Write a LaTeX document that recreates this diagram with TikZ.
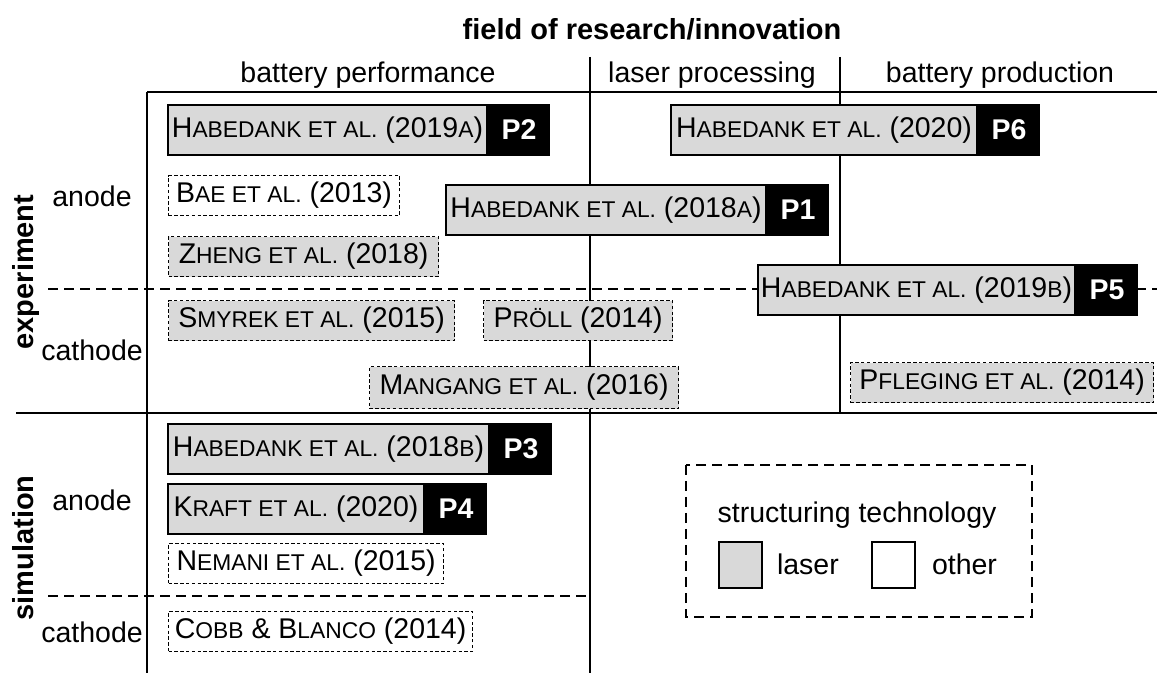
\documentclass[tikz,border=0pt]{standalone}
\usepackage{fontspec}
\setmainfont{Liberation Sans}
\usetikzlibrary{positioning}
\definecolor{lasergray}{HTML}{D9D9D9}
\newcommand{\smcap}[1]{{\fontsize{11.4pt}{13pt}\selectfont\uppercase{#1}}}
\tikzset{
  every node/.style={font=\fontsize{14.25pt}{17pt}\selectfont},
  headbf/.style={font=\fontsize{14.5pt}{17pt}\selectfont\bfseries},
  gridline/.style={line width=1pt},
  sepline/.style={line width=0.8pt, dash pattern=on 5pt off 3pt},
  ownbox/.style={draw, line width=1pt, fill=lasergray, anchor=north west, minimum height=25pt, inner sep=0pt},
  tagbox/.style={draw, line width=1pt, fill=black, text=white, font=\fontsize{14.25pt}{17pt}\selectfont\bfseries, minimum width=30pt, minimum height=25pt, inner sep=0pt},
  litlaser/.style={draw, line width=0.6pt, dash pattern=on 1.7pt off 1.2pt, fill=lasergray, anchor=north west, minimum height=20pt, inner sep=0pt},
  litother/.style={litlaser, fill=white},
  legendsq/.style={draw, line width=0.8pt, anchor=north west, minimum width=21.5pt, minimum height=23pt, inner sep=0pt}
}
\begin{document}
\begin{tikzpicture}[x=0.5pt,y=-0.5pt]
  \useasboundingbox (0,0) rectangle (1157,673);
  % table lines
  \coordinate (TL) at (147,92);
  \coordinate (TR) at (1157,92);
  \coordinate (BL) at (147,673);
  \coordinate (C1) at (590,57);
  \coordinate (C1b) at (590,673);
  \coordinate (C2) at (840,57);
  \coordinate (C2b) at (840,413);
  \coordinate (ML) at (16,413);
  \coordinate (MR) at (1157,413);
  \coordinate (EL) at (48,289);
  \coordinate (ER) at (1157,289);
  \coordinate (SL) at (48,596);
  \coordinate (SR) at (590,596);

  \draw[gridline] (TL) -- (TR);
  \draw[gridline] (TL) -- (BL);
  \draw[gridline] (C1) -- (C1b);
  \draw[gridline] (C2) -- (C2b);
  \draw[gridline] (ML) -- (MR);
  \draw[sepline] (EL) -- (ER);
  \draw[sepline] (SL) -- (SR);

  % headers
  \node[headbf, anchor=base] (field) at (652,40) {field of research/innovation};
  \node[anchor=base] (perf) at (368,83) {battery performance};
  \node[anchor=base] (laser) at (712,83) {laser processing};
  \node[anchor=base] (prod) at (1000,83) {battery production};

  \node[headbf, anchor=base, rotate=90] (exp) at (33,272) {experiment};
  \node[headbf, anchor=base, rotate=90] (sim) at (33,548) {simulation};
  \node[anchor=base] (EA) at (92,207) {anode};
  \node[anchor=base] (EC) at (92,361) {cathode};
  \node[anchor=base] (SA) at (92,511) {anode};
  \node[anchor=base] (SC) at (92,642) {cathode};

  % own publications
  \node[ownbox, minimum width=159.5pt] (H2) at (167,104) {H\smcap{abedank et al.} (2019\smcap{a})};
  \node[tagbox, right=0pt of H2] (P2) {P2};
  \node[ownbox, minimum width=160pt] (H1) at (445,184) {H\smcap{abedank et al.} (2018\smcap{a})};
  \node[tagbox, right=0pt of H1] (P1) {P1};
  \node[ownbox, minimum width=153pt] (H6) at (670,104) {H\smcap{abedank et al.} (2020)};
  \node[tagbox, right=0pt of H6] (P6) {P6};
  \node[ownbox, minimum width=158.5pt] (H5) at (757,264) {H\smcap{abedank et al.} (2019\smcap{b})};
  \node[tagbox, right=0pt of H5] (P5) {P5};
  \node[ownbox, minimum width=160.5pt] (H3) at (167,423) {H\smcap{abedank et al.} (2018\smcap{b})};
  \node[tagbox, right=0pt of H3] (P3) {P3};
  \node[ownbox, minimum width=128pt] (H4) at (167,483) {K\smcap{raft et al.} (2020)};
  \node[tagbox, right=0pt of H4] (P4) {P4};

  % other publications
  \node[litother, minimum width=115.5pt] (bae) at (168,175) {B\smcap{ae et al.} (2013)};
  \node[litlaser, minimum width=135pt] (zheng) at (168,236) {Z\smcap{heng et al.} (2018)};
  \node[litlaser, minimum width=143pt] (smyrek) at (168,300) {S\smcap{myrek et al.} (2015)};
  \node[litlaser, minimum width=94.5pt] (proell) at (483,300) {P\smcap{röll} (2014)};
  \node[litlaser, minimum width=154.5pt, minimum height=21pt] (mangang) at (369,366) {M\smcap{angang et al.} (2016)};
  \node[litlaser, minimum width=151.5pt] (pfleging) at (850,362) {P\smcap{fleging et al.} (2014)};
  \node[litother, minimum width=137.5pt] (nemani) at (168,543) {N\smcap{emani et al.} (2015)};
  \node[litother, minimum width=152pt] (cobb) at (168,611) {C\smcap{obb} \& B\smcap{lanco} (2014)};

  % legend
  \draw[line width=0.8pt, dash pattern=on 5pt off 3pt] (686,465) rectangle (1032,617);
  \node[anchor=base] (struct) at (857,523) {structuring technology};
  \node[legendsq, fill=lasergray] (sqlaser) at (718,541) {};
  \node[anchor=west, inner sep=0pt, right=7pt of sqlaser] (lbllaser) {laser};
  \node[legendsq, fill=white] (sqother) at (871,541) {};
  \node[anchor=west, inner sep=0pt, right=8pt of sqother] (lblother) {other};
\end{tikzpicture}
\end{document}
